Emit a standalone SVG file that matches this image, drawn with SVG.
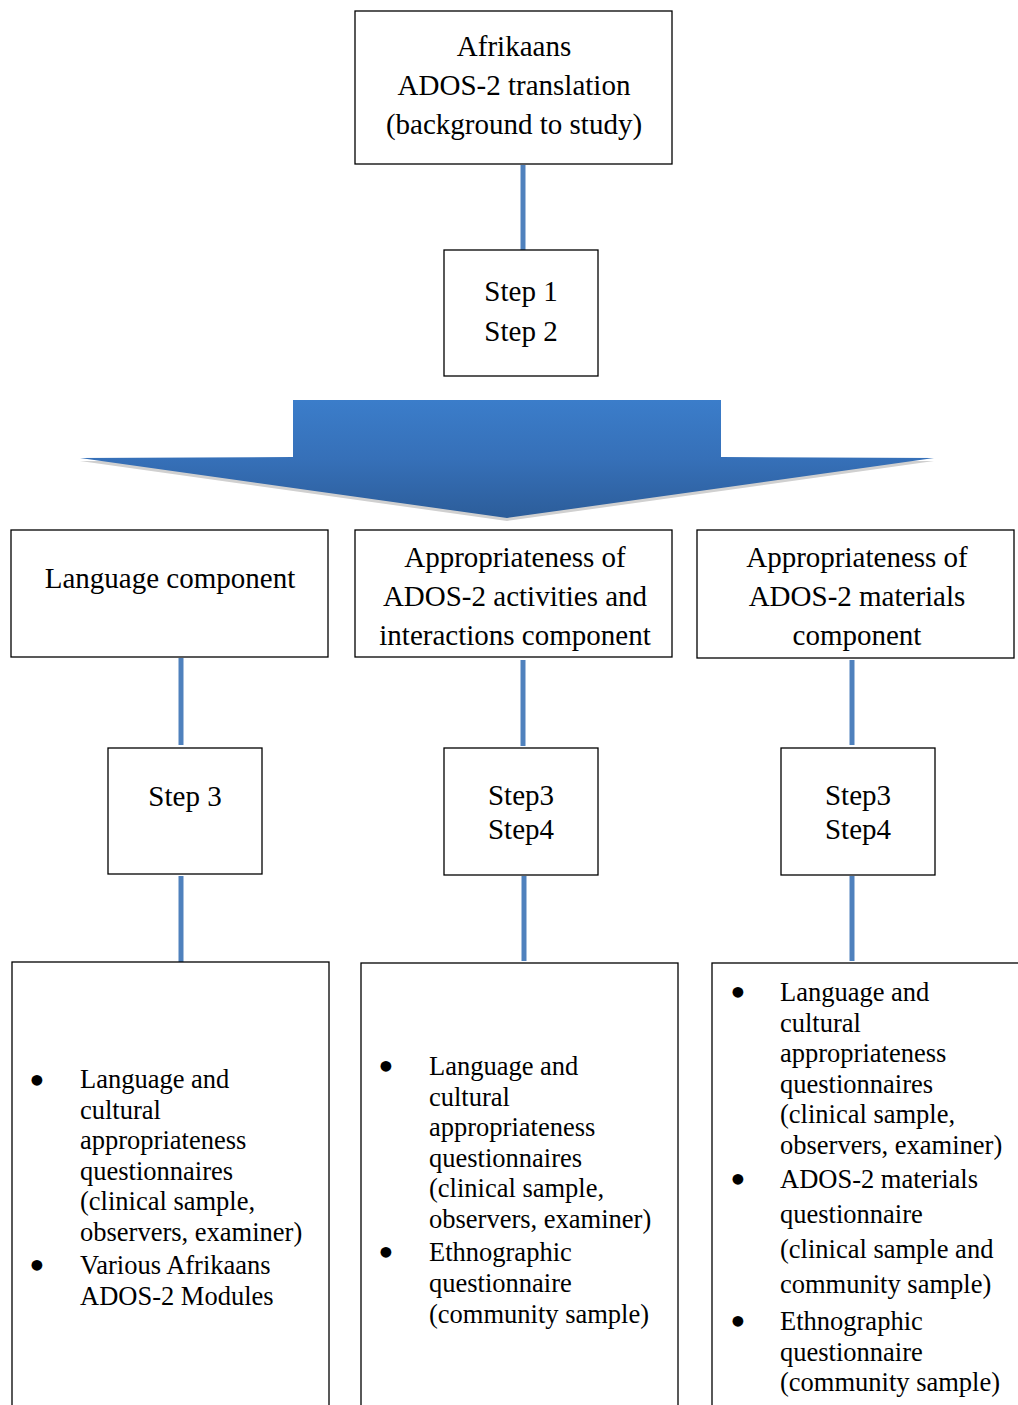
<svg xmlns="http://www.w3.org/2000/svg" width="1018" height="1405" viewBox="0 0 1018 1405">
<defs>
<linearGradient id="ag" x1="0" y1="0" x2="0" y2="1">
<stop offset="0" stop-color="#3b7dca"/>
<stop offset="0.5" stop-color="#3670b8"/>
<stop offset="1" stop-color="#2c5d9a"/>
</linearGradient>
</defs>
<style>
.box{fill:#fff;stroke:#000;stroke-width:1.3}
.t{font-family:"Liberation Serif","Times New Roman",serif;font-size:29px;fill:#000;text-anchor:middle}
.b{font-family:"Liberation Serif","Times New Roman",serif;font-size:26.5px;fill:#000}
.bu{font-family:"Liberation Serif","Times New Roman",serif;font-size:45px;fill:#000;text-anchor:middle}
.con{stroke:#4f81bd;stroke-width:5;fill:none}
</style>
<rect width="1018" height="1405" fill="#fff"/>
<g id="connectors">
<line class="con" x1="523" y1="165" x2="523" y2="250"/>
<line class="con" x1="181" y1="658" x2="181" y2="745"/>
<line class="con" x1="523" y1="660" x2="523" y2="746"/>
<line class="con" x1="852" y1="660" x2="852" y2="745"/>
<line class="con" x1="181" y1="876" x2="181" y2="962"/>
<line class="con" x1="524" y1="876" x2="524" y2="961"/>
<line class="con" x1="852" y1="876" x2="852" y2="961"/>
</g>
<g id="arrow">
<polygon points="293,403 721,403 721,461 934,461 507,521 80,461 293,461" fill="#d0d0d0"/>
<polygon points="293,400 721,400 721,457 934,458 507,518 80,458 293,457" fill="url(#ag)"/>
</g>
<g id="n-top">
<rect class="box" x="355" y="11" width="317" height="153"/>
<text class="t" x="514" y="56">Afrikaans</text>
<text class="t" x="514" y="95">ADOS-2 translation</text>
<text class="t" x="514" y="134">(background to study)</text>
</g>
<g id="n-step12">
<rect class="box" x="444" y="250" width="154" height="126"/>
<text class="t" x="521" y="301">Step 1</text>
<text class="t" x="521" y="341">Step 2</text>
</g>
<g id="n-lang">
<rect class="box" x="11" y="530" width="317" height="127"/>
<text class="t" x="170" y="588">Language component</text>
</g>
<g id="n-activ">
<rect class="box" x="355" y="530" width="317" height="127"/>
<text class="t" x="515" y="567">Appropriateness of</text>
<text class="t" x="515" y="606">ADOS-2 activities and</text>
<text class="t" x="515" y="645">interactions component</text>
</g>
<g id="n-mat">
<rect class="box" x="697" y="530" width="317" height="128"/>
<text class="t" x="857" y="567">Appropriateness of</text>
<text class="t" x="857" y="606">ADOS-2 materials</text>
<text class="t" x="857" y="645">component</text>
</g>
<g id="n-step3">
<rect class="box" x="108" y="748" width="154" height="126"/>
<text class="t" x="185" y="806">Step 3</text>
</g>
<g id="n-step34a">
<rect class="box" x="444" y="748" width="154" height="127"/>
<text class="t" x="521" y="805">Step3</text>
<text class="t" x="521" y="839">Step4</text>
</g>
<g id="n-step34b">
<rect class="box" x="781" y="748" width="154" height="127"/>
<text class="t" x="858" y="805">Step3</text>
<text class="t" x="858" y="839">Step4</text>
</g>
<g id="n-list1">
<rect class="box" x="12" y="962" width="317" height="450"/>
<text class="bu" x="37" y="1095">•</text>
<text class="b" x="80" y="1088">Language and</text>
<text class="b" x="80" y="1119">cultural</text>
<text class="b" x="80" y="1149">appropriateness</text>
<text class="b" x="80" y="1180">questionnaires</text>
<text class="b" x="80" y="1210">(clinical sample,</text>
<text class="b" x="80" y="1241">observers, examiner)</text>
<text class="bu" x="37" y="1280">•</text>
<text class="b" x="80" y="1274">Various Afrikaans</text>
<text class="b" x="80" y="1305">ADOS-2 Modules</text>
</g>
<g id="n-list2">
<rect class="box" x="361" y="963" width="317" height="450"/>
<text class="bu" x="386" y="1081">•</text>
<text class="b" x="429" y="1075">Language and</text>
<text class="b" x="429" y="1106">cultural</text>
<text class="b" x="429" y="1136">appropriateness</text>
<text class="b" x="429" y="1167">questionnaires</text>
<text class="b" x="429" y="1197">(clinical sample,</text>
<text class="b" x="429" y="1228">observers, examiner)</text>
<text class="bu" x="386" y="1267">•</text>
<text class="b" x="429" y="1261">Ethnographic</text>
<text class="b" x="429" y="1292">questionnaire</text>
<text class="b" x="429" y="1323">(community sample)</text>
</g>
<g id="n-list3">
<rect class="box" x="712" y="963" width="320" height="450"/>
<text class="bu" x="738" y="1007">•</text>
<text class="b" x="780" y="1001">Language and</text>
<text class="b" x="780" y="1032">cultural</text>
<text class="b" x="780" y="1062">appropriateness</text>
<text class="b" x="780" y="1093">questionnaires</text>
<text class="b" x="780" y="1123">(clinical sample,</text>
<text class="b" x="780" y="1154">observers, examiner)</text>
<text class="bu" x="738" y="1194">•</text>
<text class="b" x="780" y="1188">ADOS-2 materials</text>
<text class="b" x="780" y="1223">questionnaire</text>
<text class="b" x="780" y="1258">(clinical sample and</text>
<text class="b" x="780" y="1293">community sample)</text>
<text class="bu" x="738" y="1336">•</text>
<text class="b" x="780" y="1330">Ethnographic</text>
<text class="b" x="780" y="1361">questionnaire</text>
<text class="b" x="780" y="1391">(community sample)</text>
</g>
</svg>
